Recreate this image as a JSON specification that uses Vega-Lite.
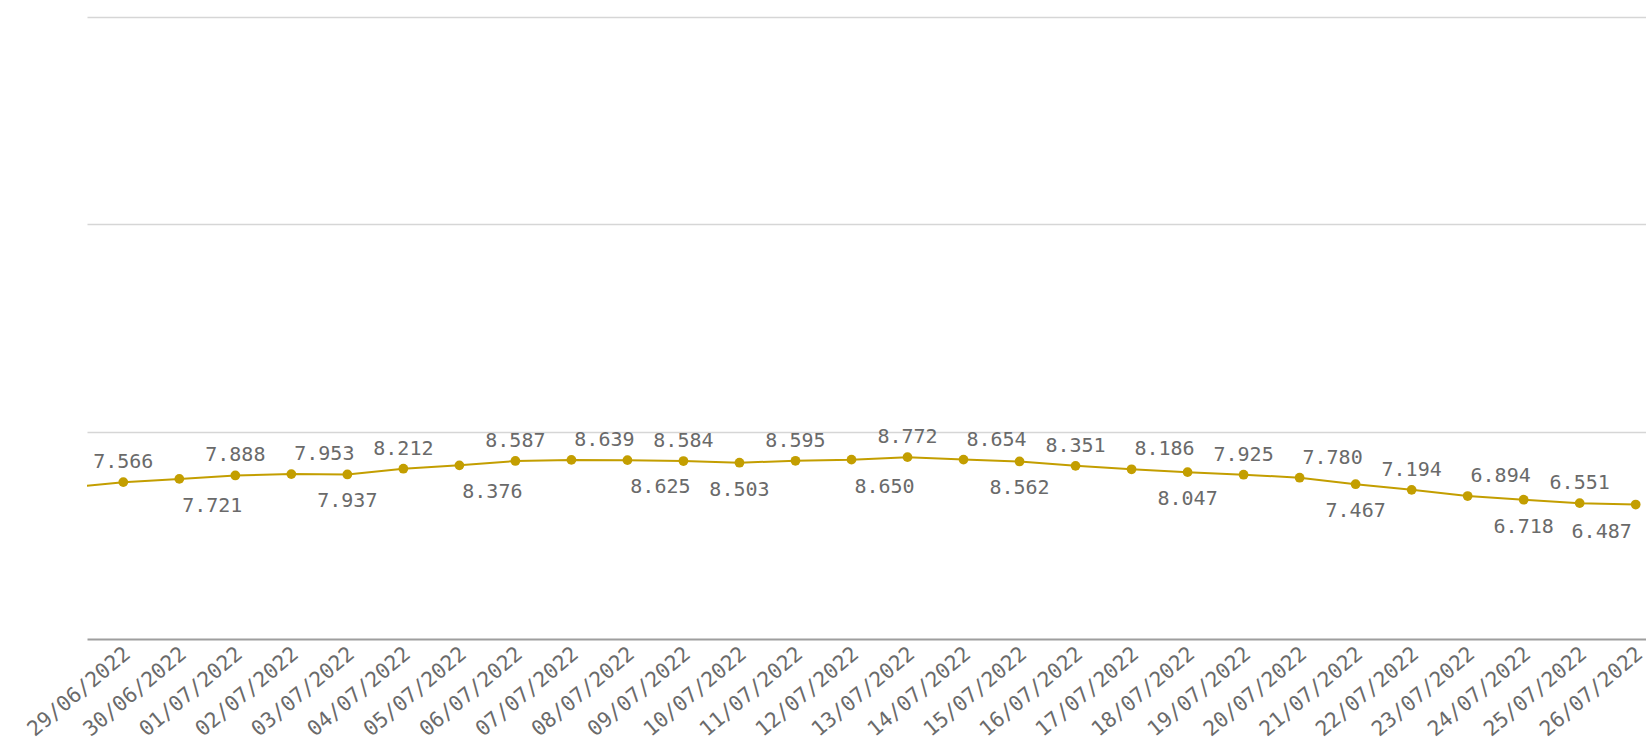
{
  "$schema": "https://vega.github.io/schema/vega-lite/v6.json",
  "width": 1559,
  "height": 622,
  "autosize": "none",
  "padding": {"left": 87, "top": 17, "right": 0, "bottom": 109},
  "background": "#ffffff",
  "config": {"view": {"stroke": null}},
  "data": {
    "values": [
      {"date": "2022-06-28", "value": 7.30},
      {"date": "2022-06-29", "value": 7.566},
      {"date": "2022-06-30", "value": 7.721},
      {"date": "2022-07-01", "value": 7.888},
      {"date": "2022-07-02", "value": 7.953},
      {"date": "2022-07-03", "value": 7.937},
      {"date": "2022-07-04", "value": 8.212},
      {"date": "2022-07-05", "value": 8.376},
      {"date": "2022-07-06", "value": 8.587},
      {"date": "2022-07-07", "value": 8.639},
      {"date": "2022-07-08", "value": 8.625},
      {"date": "2022-07-09", "value": 8.584},
      {"date": "2022-07-10", "value": 8.503},
      {"date": "2022-07-11", "value": 8.595},
      {"date": "2022-07-12", "value": 8.650},
      {"date": "2022-07-13", "value": 8.772},
      {"date": "2022-07-14", "value": 8.654},
      {"date": "2022-07-15", "value": 8.562},
      {"date": "2022-07-16", "value": 8.351},
      {"date": "2022-07-17", "value": 8.186},
      {"date": "2022-07-18", "value": 8.047},
      {"date": "2022-07-19", "value": 7.925},
      {"date": "2022-07-20", "value": 7.780},
      {"date": "2022-07-21", "value": 7.467},
      {"date": "2022-07-22", "value": 7.194},
      {"date": "2022-07-23", "value": 6.894},
      {"date": "2022-07-24", "value": 6.718},
      {"date": "2022-07-25", "value": 6.551},
      {"date": "2022-07-26", "value": 6.487}
    ]
  },
  "encoding": {
    "x": {
      "field": "date",
      "type": "temporal",
      "scale": {
        "type": "utc",
        "domain": [
          {"year": 2022, "month": 6, "date": 28, "hours": 8, "minutes": 27, "utc": true},
          {"year": 2022, "month": 7, "date": 26, "hours": 4, "minutes": 25, "utc": true}
        ]
      },
      "axis": {
        "title": null,
        "format": "%d/%m/%Y",
        "tickCount": {"interval": "day", "step": 1},
        "grid": false,
        "ticks": false,
        "domain": true,
        "domainColor": "#9e9e9e",
        "domainWidth": 2,
        "labelAngle": -40,
        "labelAlign": "right",
        "labelBaseline": "middle",
        "labelPadding": 12,
        "labelOffset": 4,
        "labelOverlap": false,
        "labelFlush": false,
        "labelBound": false,
        "labelFont": "DejaVu Sans Mono",
        "labelFontSize": 21,
        "labelColor": "#6a6a6a"
      }
    },
    "y": {
      "field": "value",
      "type": "quantitative",
      "scale": {"domain": [0, 30], "nice": false, "zero": true},
      "axis": {
        "title": null,
        "labels": false,
        "ticks": false,
        "domain": false,
        "grid": true,
        "values": [10, 20, 30],
        "gridColor": "#d6d6d6",
        "gridWidth": 1.5
      }
    }
  },
  "layer": [
    {
      "mark": {"type": "line", "color": "#c39e00", "strokeWidth": 2, "clip": true}
    },
    {
      "mark": {"type": "circle", "color": "#c39e00", "opacity": 1, "size": 95, "clip": true}
    },
    {
      "transform": [{"filter": "indexof(['29/06','01/07','04/07','06/07','09/07','11/07','13/07','16/07','19/07','22/07','25/07'], utcFormat(datum.date, '%d/%m')) >= 0"}],
      "mark": {"type": "text", "font": "DejaVu Sans Mono", "fontSize": 20, "color": "#6a6a6a", "baseline": "alphabetic", "align": "center", "dy": -14},
      "encoding": {"text": {"field": "value", "type": "quantitative", "format": ".3f"}}
    },
    {
      "transform": [{"filter": "indexof(['02/07','07/07','14/07','17/07','20/07','23/07'], utcFormat(datum.date, '%d/%m')) >= 0"}],
      "mark": {"type": "text", "font": "DejaVu Sans Mono", "fontSize": 20, "color": "#6a6a6a", "baseline": "alphabetic", "align": "center", "dy": -14, "dx": 33},
      "encoding": {"text": {"field": "value", "type": "quantitative", "format": ".3f"}}
    },
    {
      "transform": [{"filter": "indexof(['03/07','10/07','15/07','18/07','21/07','24/07'], utcFormat(datum.date, '%d/%m')) >= 0"}],
      "mark": {"type": "text", "font": "DejaVu Sans Mono", "fontSize": 20, "color": "#6a6a6a", "baseline": "alphabetic", "align": "center", "dy": 33},
      "encoding": {"text": {"field": "value", "type": "quantitative", "format": ".3f"}}
    },
    {
      "transform": [{"filter": "indexof(['30/06','05/07','08/07','12/07'], utcFormat(datum.date, '%d/%m')) >= 0"}],
      "mark": {"type": "text", "font": "DejaVu Sans Mono", "fontSize": 20, "color": "#6a6a6a", "baseline": "alphabetic", "align": "center", "dy": 33, "dx": 33},
      "encoding": {"text": {"field": "value", "type": "quantitative", "format": ".3f"}}
    },
    {
      "transform": [{"filter": "indexof(['26/07'], utcFormat(datum.date, '%d/%m')) >= 0"}],
      "mark": {"type": "text", "font": "DejaVu Sans Mono", "fontSize": 20, "color": "#6a6a6a", "baseline": "alphabetic", "align": "center", "dy": 33, "dx": -34},
      "encoding": {"text": {"field": "value", "type": "quantitative", "format": ".3f"}}
    }
  ]
}
